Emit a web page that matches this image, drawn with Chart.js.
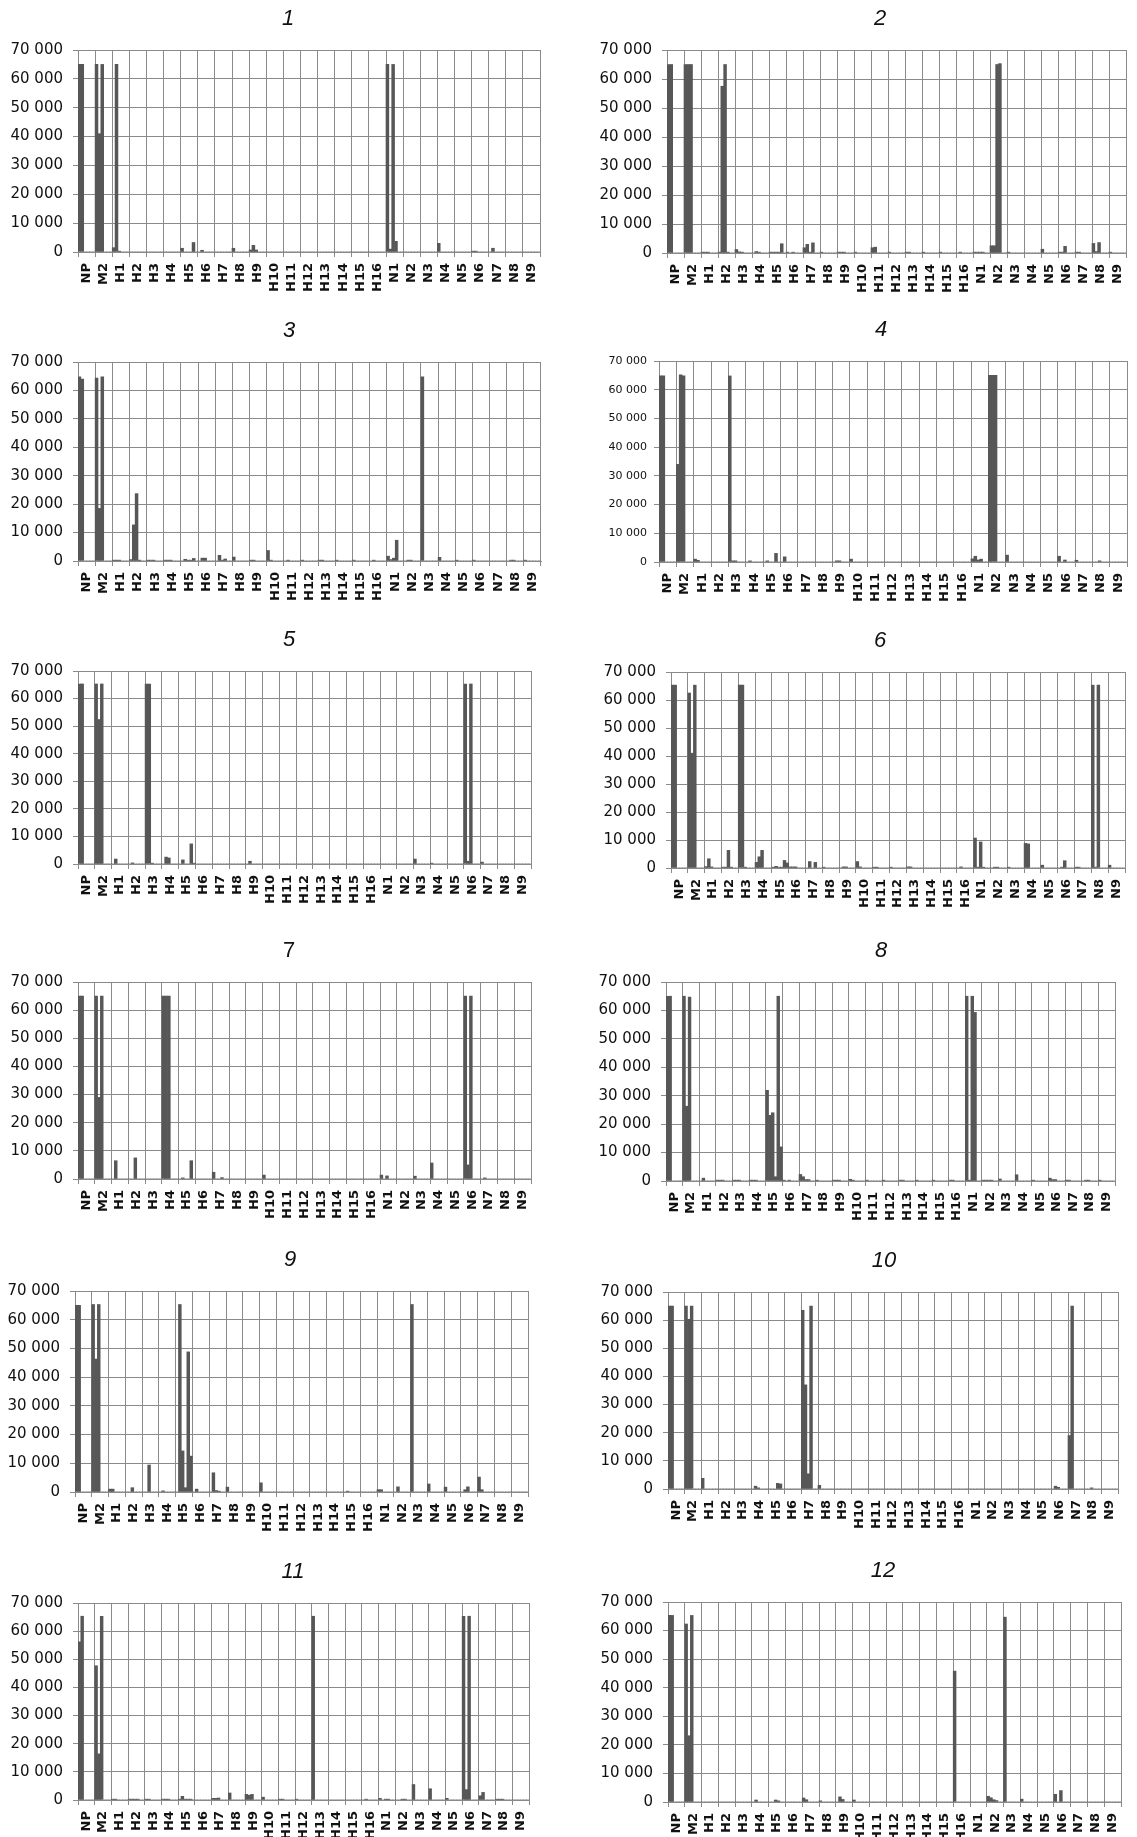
<!DOCTYPE html>
<html>
<head>
<meta charset="utf-8">
<script src="https://cdn.jsdelivr.net/npm/chart.js@4.4.1/dist/chart.umd.min.js"></script>
<style>
  html, body { margin: 0; padding: 0; background: #fff; overflow: hidden; }
  body { width: 1137px; height: 1837px; position: relative; }
  .panel { position: absolute; }
</style>
</head>
<body>
<script>
const categories = ['NP', 'M2', 'H1', 'H2', 'H3', 'H4', 'H5', 'H6', 'H7', 'H8', 'H9', 'H10', 'H11', 'H12', 'H13', 'H14', 'H15', 'H16',
  'N1', 'N2', 'N3', 'N4', 'N5', 'N6', 'N7', 'N8', 'N9'];
const titles = ['1', '2', '3', '4', '5', '6', '7', '8', '9', '10', '11', '12'];
const yTicks = [0, 10000, 20000, 30000, 40000, 50000, 60000, 70000];

// one row per category, up to 6 bars (replicates) per row; missing = 0
const c1 = [
  [65000, 65000], [65000, 41000, 65000], [1500, 65000, 300], [], [], [], [1300, 0, 0, 0, 3300], [0, 600], [], [1300], [700, 2300, 700],
  [], [], [], [], [], [], [],
  [65000, 1000, 65000, 3700], [], [], [3000], [], [300, 300], [0, 1300], [], []
];
const c2 = [
  [65000, 65000], [65000, 65000, 65000], [300, 300, 300], [300, 57500, 65000, 300], [1200, 400, 300], [0, 500, 300], [300, 300, 300, 300, 3200],
  [300, 0, 300], [1800, 3000, 300, 3500], [300], [300, 300, 300], [300], [1800, 2000], [300], [300, 300], [300], [300], [0, 300],
  [300, 300, 300, 300], [2500, 2500, 65000, 65300], [300], [], [1300], [300, 300, 2300], [300, 300], [3300, 500, 3600], [300]
];
const c3 = [
  [64800, 64000], [64300, 18500, 64800], [300, 300, 300], [500, 12700, 23700, 300], [300, 300, 300], [300, 300, 300], [0, 600, 300, 300, 900],
  [0, 1000, 1000], [0, 2000, 300, 700], [1400], [300, 300], [3700, 300], [0, 300], [300], [300, 300], [300], [300], [0, 300],
  [1700, 500, 1000, 7300], [0, 300, 300], [64800], [1300], [300], [300], [], [0, 300, 300], [300]
];
const c4 = [
  [64800, 64800], [34000, 65200, 64800], [1000, 600], [], [64800, 400, 400], [0, 400], [0, 400, 0, 0, 3000], [0, 1800], [], [], [0, 400, 400],
  [1000], [], [], [], [], [], [],
  [1100, 2000, 700, 1000], [65000, 65000, 65000], [2400], [], [], [2000, 0, 700], [600], [0, 0, 400], []
];
const c5 = [
  [65300, 65300], [65300, 52400, 65300], [0, 1800], [0, 400], [65300, 65300, 300], [0, 2500, 2200], [0, 1500, 0, 0, 7300, 300], [], [], [],
  [0, 1000], [], [], [], [], [], [], [],
  [], [], [1800], [300], [], [65300, 1000, 65300], [700], [], []
];
const c6 = [
  [65300, 65300], [62500, 41000, 65300], [500, 3300, 400], [300, 300, 6300, 300], [65300, 65300, 300], [2000, 4000, 6300],
  [300, 600, 300, 300, 2700, 1800], [400, 400, 400], [0, 2300, 0, 2000], [300], [0, 400, 400], [2300, 400], [300, 300], [300], [400, 400],
  [], [], [0, 400],
  [10700, 300, 9300, 300], [0, 300, 300], [300], [8800, 8600], [1000], [0, 300, 2600], [300, 300], [65300, 300, 65300], [1000]
];
const c7 = [
  [65000, 65000], [65000, 29000, 65000], [0, 6500], [0, 0, 7500], [], [65000, 65000, 65000], [0, 400, 0, 0, 6500], [], [2400, 0, 0, 500],
  [], [], [1400], [], [], [], [], [], [],
  [1400, 0, 1100], [], [1000], [5700], [], [65000, 5000, 65000], [0, 400], [], []
];
const c8 = [
  [65000, 65000], [65000, 26300, 64700], [0, 1000], [300, 300, 300], [300, 300, 300], [300, 300, 300], [31900, 23100, 24000, 1500, 65000, 12000],
  [300, 0, 300], [2300, 1500, 500, 500], [300], [300, 300, 300], [600, 300], [300], [300], [300, 300], [300], [300], [300, 300],
  [65000, 300, 65000, 59300], [300, 300, 300, 300], [700], [2200], [300], [1000, 500, 500], [300, 300], [0, 300, 300], [300]
];
const c9 = [
  [65000, 65000], [65300, 46300, 65300], [1000, 1000], [0, 0, 1500], [0, 0, 9400], [0, 400], [0, 65300, 14300, 1500, 48800, 12500], [0, 1000],
  [0, 6700, 500, 300], [1700], [], [3200], [], [], [], [], [0, 300], [],
  [800, 800], [0, 1800], [65300], [2800], [1700], [0, 800, 1800], [5200, 800], [], []
];
const c10 = [
  [65000, 65000], [65000, 60300, 65000], [3800], [], [], [0, 1000, 400], [0, 0, 0, 2000, 1800], [], [63500, 37000, 5400, 65000], [1300],
  [], [], [], [], [], [], [], [],
  [], [], [], [], [], [0, 1000, 600], [19000, 65000], [0, 0, 400], []
];
const c11 = [
  [56200, 65300], [47700, 16400, 65300], [300, 300], [300, 300, 300, 300], [300, 300], [300, 300, 300], [300, 1300, 300, 300, 300], [],
  [600, 600, 700], [2500], [2000, 1700, 2000], [1000], [300, 300], [300], [65300], [], [], [0, 300],
  [600, 0, 300, 300], [0, 0, 300, 300], [5500], [4000], [600], [65300, 3700, 65300], [1500, 2700], [300, 300, 300], []
];
const c12 = [
  [65300, 65300], [62300, 23200, 65300], [], [], [], [0, 700], [0, 0, 700, 400], [], [1400, 800], [400], [0, 1800, 900], [700],
  [], [], [], [], [], [45800],
  [], [2000, 1500, 800, 500], [64700], [1000], [], [2700, 0, 4000], [], [], []
];
const panels = [c1, c2, c3, c4, c5, c6, c7, c8, c9, c10, c11, c12];

// plot area of each panel in page pixels: left, top, right, bottom
const boxes = [
  [78, 50, 540, 252], [667, 50, 1126, 253],
  [78, 362, 541, 561], [659, 361, 1127, 562],
  [78, 671, 531, 864], [671, 672, 1125, 868],
  [78, 982, 531, 1179], [666, 982, 1115, 1181],
  [75, 1291, 528, 1492], [668, 1292, 1118, 1489],
  [78, 1603, 529, 1800], [668, 1602, 1121, 1802]
];
// horizontal centre of each title
const titleX = [288, 880, 289, 881, 289, 880, 289, 881, 290, 884, 293, 883];

const fmt = v => String(v).replace(/\B(?=(\d{3})+(?!\d))/g, ' ');
const gridColor = '#8a8a8a';

panels.forEach((rows, i) => {
  const [pl, pt, pr, pb] = boxes[i];
  const left = i % 2 === 0 ? 0 : 570;
  const top = pt - 50;
  // canvas is as wide as twice the title offset, so the full-width title lands on titleX
  const w = 2 * (titleX[i] - left);
  const h = pb + 45 - top;
  const spareRight = w - (pr - left);

  const div = document.createElement('div');
  div.className = 'panel';
  div.style.left = left + 'px';
  div.style.top = top + 'px';
  div.style.width = w + 'px';
  div.style.height = h + 'px';
  const canvas = document.createElement('canvas');
  div.appendChild(canvas);
  document.body.appendChild(div);

  const datasets = [0, 1, 2, 3, 4, 5].map(j => ({
    data: rows.map(r => r[j] || 0),
    backgroundColor: '#575757',
    borderWidth: 0,
    categoryPercentage: 1,
    barPercentage: 1
  }));

  const small = i === 3;

  new Chart(canvas, {
    type: 'bar',
    data: { labels: categories, datasets: datasets },
    options: {
      responsive: true,
      maintainAspectRatio: false,
      animation: false,
      layout: { padding: 0 },
      plugins: {
        legend: { display: false },
        tooltip: { enabled: false },
        title: {
          display: true,
          text: titles[i],
          color: '#111',
          font: { family: 'Liberation Sans', size: 22, style: i === 6 ? 'normal' : 'italic', weight: 'normal', lineHeight: 1.2 },
          padding: { top: 6, bottom: 17.6 }
        }
      },
      scales: {
        x: {
          grid: { color: gridColor, offset: true, tickLength: 5 },
          border: { color: gridColor },
          ticks: {
            autoSkip: false, minRotation: 90, maxRotation: 90, padding: 6, color: '#111',
            font: { family: 'DejaVu Sans', size: 13, weight: 'bold' }
          },
          afterFit: s => { s.height = 45; }
        },
        y: {
          min: 0, max: 70000,
          grid: { color: gridColor, tickLength: 5 },
          border: { color: gridColor },
          afterBuildTicks: s => { s.ticks = yTicks.map(v => ({ value: v })); },
          ticks: {
            padding: small ? 7 : 10, color: '#111',
            font: { family: 'DejaVu Sans', size: small ? 11 : 15 },
            callback: v => fmt(v)
          },
          afterFit: s => { s.width = pl - left; }
        },
        // empty right-hand strip that keeps the plot clear of the canvas edge
        spare: {
          type: 'linear', position: 'right',
          grid: { display: false }, border: { display: false }, ticks: { display: false },
          afterFit: s => { s.width = spareRight; }
        }
      }
    }
  });
});
</script>
</body>
</html>
